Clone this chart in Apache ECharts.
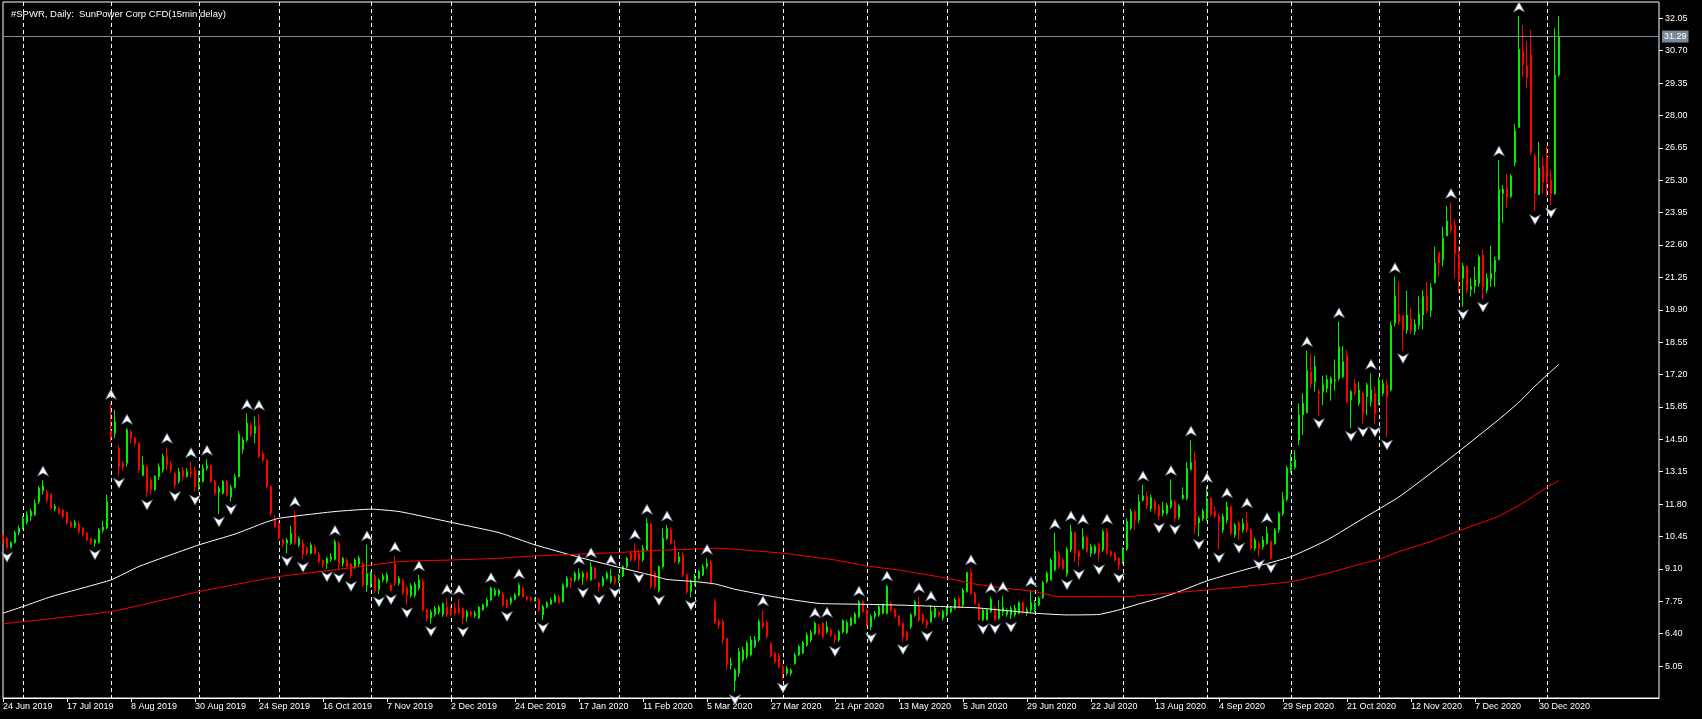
<!DOCTYPE html>
<html>
<head>
<meta charset="utf-8">
<title>#SPWR, Daily</title>
<script src="https://cdn.jsdelivr.net/npm/echarts@6/dist/echarts.min.js"></script>
<style>
  html, body { margin: 0; padding: 0; background: #000; }
  #main { width: 1702px; height: 719px; }
</style>
</head>
<body>
<div id="main"></div>
<script>
// daily bars, one small array per month: [open, close, low, high]
var jun2019 = [
  [10.45,10.35,10.15,10.55],[10.37,10.0,9.92,10.45],[10.0,10.2,9.95,10.25],[10.2,10.6,10.15,10.7],[10.6,10.8,10.5,10.9]
];
var jul2019 = [
  [10.8,11.2,10.75,11.3],[11.05,11.35,10.95,11.5],[11.3,11.5,11.1,11.6],[11.35,11.84,11.3,12.0],[11.9,12.46,11.8,12.55],
  [12.35,12.55,12.2,12.8],[12.3,11.95,11.85,12.4],[12.2,11.63,11.55,12.25],[11.6,11.7,11.5,11.8],[11.62,11.42,11.35,11.72],
  [11.55,11.28,11.2,11.6],[11.45,11.0,10.95,11.5],[11.05,10.86,10.8,11.1],[10.9,11.05,10.8,11.15],[10.97,10.65,10.55,11.1],
  [10.8,10.52,10.45,10.85],[10.6,10.3,10.25,10.65],[10.37,10.2,10.1,10.4],[10.17,10.3,10.02,10.35],[10.2,10.72,10.15,10.8],
  [10.7,10.85,10.6,11.1],[10.8,11.9,10.75,12.2]
];
var aug2019 = [
  [14.85,14.59,14.36,16.0],[14.75,15.24,14.55,15.72],[14.13,13.36,13.0,14.27],[13.5,13.36,13.2,13.6],[13.5,14.9,13.36,14.96],
  [14.82,14.55,14.33,14.9],[14.55,14.33,14.2,14.6],[14.33,13.22,13.1,14.4],[13.0,13.43,12.95,13.8],[13.36,12.32,12.1,13.45],
  [12.8,12.4,12.2,12.9],[12.4,12.95,12.35,13.0],[12.95,13.36,12.8,13.5],[13.22,13.78,13.1,13.9],[13.78,13.43,13.22,14.17],
  [13.5,13.22,13.1,13.6],[13.08,12.6,12.45,13.15],[12.74,13.15,12.65,13.3],[13.2,12.95,12.75,13.35],[12.95,13.15,12.9,13.3],
  [13.15,13.08,12.9,13.57],[13.22,12.53,12.3,13.36]
];
var sep2019 = [
  [12.5,12.6,12.35,13.2],[12.75,13.3,12.7,13.45],[13.3,13.4,13.2,13.67],[13.4,12.74,12.7,13.45],[12.74,12.25,12.15,12.8],
  [12.3,12.45,11.39,12.55],[12.25,12.74,12.2,12.8],[12.74,12.18,12.1,12.8],[12.1,12.5,11.9,12.6],[12.5,12.95,12.45,13.05],
  [12.95,14.7,12.9,14.85],[14.09,14.47,13.9,14.6],[14.47,15.17,14.4,15.58],[15.1,14.7,14.6,15.2],[14.75,15.03,14.33,15.45],
  [15.1,13.78,13.71,15.55],[13.9,13.64,13.55,14.0],[13.64,12.53,12.45,13.7],[12.53,11.42,11.3,12.6],[11.14,10.86,10.8,11.35]
];
var oct2019 = [
  [11.0,10.38,10.3,11.1],[10.3,10.1,10.0,10.35],[10.17,10.3,9.75,10.4],[10.17,10.58,10.1,10.9],[11.28,10.17,10.1,11.53],
  [10.1,10.37,10.0,10.45],[10.17,9.72,9.5,10.3],[9.95,9.75,9.65,10.05],[9.75,10.1,9.7,10.2],[10.0,9.75,9.7,10.1],
  [9.7,9.4,9.3,9.8],[9.45,9.28,9.15,9.5],[9.33,9.54,9.1,9.6],[9.5,9.6,9.4,9.75],[9.5,10.23,9.45,10.33],
  [10.17,9.33,9.05,10.25],[9.33,9.54,9.2,9.6],[9.47,9.2,9.1,9.55],[9.3,8.8,8.7,9.35],[9.2,9.47,9.1,9.55],
  [9.3,9.55,9.2,9.65],[9.33,8.43,8.35,9.4],[8.43,8.9,8.15,10.1]
];
var nov2019 = [
  [8.5,8.95,8.3,9.0],[8.8,8.2,8.1,8.9],[8.25,8.64,8.05,8.7],[8.64,8.78,8.55,8.9],[8.6,8.85,8.5,8.95],
  [8.43,8.2,8.15,8.5],[9.3,8.5,8.4,9.64],[8.5,8.7,8.4,8.8],[8.6,8.1,8.0,8.7],[8.3,8.0,7.6,8.4],
  [8.0,8.4,7.9,8.5],[8.0,8.45,7.9,8.55],[8.3,8.64,8.2,8.85],[8.57,7.39,7.3,8.7],[7.39,7.05,6.9,7.45],
  [7.05,7.3,6.82,7.4],[7.2,7.45,7.1,7.55],[7.3,7.5,7.2,7.6],[7.2,7.65,7.1,7.7],[7.5,7.2,7.1,7.87]
];
var dec2019 = [
  [7.45,7.2,7.1,7.55],[7.45,7.25,7.15,7.7],[7.45,7.3,7.2,7.85],[7.45,7.05,6.8,7.5],[7.1,7.3,6.9,7.4],
  [7.3,7.2,7.1,7.35],[7.15,7.25,7.05,7.35],[7.05,7.5,7.0,7.55],[7.4,7.6,7.35,7.65],[7.55,7.8,7.5,7.9],
  [7.8,8.3,7.75,8.36],[8.0,8.2,7.95,8.3],[8.05,8.2,7.95,8.28],[8.05,7.59,7.52,8.15],[7.8,7.52,7.45,7.85],
  [7.69,7.87,7.6,7.95],[7.83,8.01,7.78,8.1],[8.0,8.43,7.95,8.52],[8.29,7.94,7.9,8.35],[7.91,7.83,7.75,7.98],
  [7.87,7.8,7.72,7.95]
];
var jan2020 = [
  [7.8,7.83,7.73,7.9],[7.83,7.39,7.3,7.9],[7.18,7.52,6.97,7.6],[7.52,7.69,7.45,7.75],[7.63,7.8,7.6,7.9],
  [7.73,7.97,7.7,8.05],[7.91,7.69,7.62,8.0],[7.73,8.43,7.7,8.5],[8.36,8.71,8.3,8.8],[8.71,8.57,8.3,8.75],
  [8.64,8.91,8.55,9.0],[8.7,8.91,8.6,9.12],[8.75,8.91,8.43,9.0],[8.94,8.7,8.6,9.0],[8.64,9.19,8.6,9.4],
  [9.12,8.71,8.65,9.2],[8.5,8.36,8.15,8.55],[8.43,8.71,8.35,8.8],[8.71,8.91,8.65,9.0],[8.57,8.8,8.5,9.1],
  [8.71,8.53,8.43,8.8]
];
var feb2020 = [
  [8.61,8.84,8.5,8.9],[8.8,9.19,8.75,9.25],[9.19,9.54,9.1,9.6],[9.75,9.47,9.4,9.85],[9.89,9.47,9.4,10.16],
  [9.75,9.47,9.05,9.9],[9.47,9.96,9.4,10.1],[9.89,11.0,9.85,11.21],[10.97,8.36,8.3,11.0],[8.91,8.36,8.25,9.0],
  [8.19,9.19,8.11,9.25],[9.19,10.37,9.1,10.8],[10.37,10.79,10.3,10.93],[10.72,10.16,10.1,10.85],[10.02,9.4,9.35,10.3],
  [9.4,9.6,9.3,9.8],[9.68,8.84,8.75,9.8],[8.84,8.15,8.05,8.9],[8.15,8.57,7.91,8.65]
];
var mar2020 = [
  [8.5,8.71,8.4,8.9],[8.71,8.98,8.65,9.05],[8.84,9.19,8.8,9.3],[9.19,9.33,9.1,9.54],[9.36,8.5,8.45,9.45],
  [7.73,6.9,6.8,7.85],[6.9,6.76,6.6,7.0],[6.9,6.14,5.95,7.0],[6.2,5.16,4.88,6.25],[5.09,5.16,4.9,5.4],
  [4.44,4.88,3.98,4.95],[4.75,5.65,4.6,5.8],[5.3,5.72,5.2,5.85],[5.44,6.0,5.35,6.1],[5.51,6.14,5.45,6.3],
  [5.86,6.14,5.8,6.3],[6.14,6.9,6.05,7.0],[6.86,6.69,6.6,7.39],[6.86,6.27,6.2,6.95],[5.97,5.47,5.4,6.05],
  [5.58,5.23,5.15,5.65],[5.47,5.02,4.95,5.6]
];
var apr2020 = [
  [5.02,4.75,4.47,5.1],[4.75,4.95,4.65,5.05],[4.75,4.88,4.65,4.95],[5.16,5.51,5.1,5.6],[5.51,5.86,5.45,5.95],
  [5.6,6.02,5.55,6.1],[5.93,6.34,5.85,6.45],[6.14,6.44,6.05,6.55],[6.41,6.83,6.35,6.9],[6.69,6.41,6.35,6.8],
  [6.83,6.27,6.2,6.88],[6.48,6.69,6.4,6.92],[6.55,6.34,6.25,6.65],[6.34,6.16,5.99,6.4],[6.14,6.48,6.05,6.55],
  [6.48,6.94,6.4,7.0],[6.44,6.86,6.4,6.95],[6.76,7.04,6.7,7.1],[6.83,7.22,6.8,7.3],[7.11,7.73,7.05,7.8],
  [7.73,7.32,7.25,7.78]
];
var may2020 = [
  [7.39,6.76,6.7,7.45],[6.69,7.11,6.55,7.2],[7.11,7.25,7.0,7.35],[7.18,7.52,7.1,7.6],[7.25,7.59,7.2,7.65],
  [7.25,8.36,7.2,8.43],[7.66,7.39,7.3,7.75],[7.39,7.11,7.05,7.45],[7.14,6.76,6.7,7.2],[6.83,6.27,6.07,6.9],
  [6.44,6.14,6.1,6.5],[6.69,7.18,6.6,7.25],[7.18,7.73,7.1,7.8],[7.52,6.97,6.9,7.94],[7.18,6.9,6.8,7.25],
  [6.94,6.76,6.62,7.0],[6.9,7.32,6.85,7.59],[7.11,7.46,7.05,7.55],[7.28,7.18,7.1,7.35],[7.04,7.32,6.95,7.4]
];
var jun2020 = [
  [7.18,7.46,7.1,7.55],[7.32,7.46,7.25,7.55],[7.46,7.8,7.4,7.9],[7.87,7.52,7.45,7.95],[7.59,8.22,7.5,8.3],
  [8.15,8.94,8.1,8.98],[8.94,8.08,8.0,9.1],[8.08,7.66,7.6,8.15],[7.63,6.97,6.95,7.7],[6.97,7.39,6.92,7.45],
  [6.97,7.39,6.97,7.45],[7.32,7.83,7.25,7.94],[7.46,6.97,6.94,7.55],[7.04,7.39,6.98,7.8],[7.3,7.5,7.15,7.98],
  [7.2,7.34,7.1,7.45],[7.18,7.45,7.0,7.55],[7.18,7.45,7.1,7.6],[7.25,7.69,7.2,7.75],[7.69,7.32,7.2,7.75],
  [7.25,7.39,7.15,7.5],[7.39,7.69,7.3,8.2]
];
var jul2020 = [
  [7.39,7.69,7.3,7.8],[7.6,7.87,7.55,7.95],[7.9,8.52,7.85,8.6],[8.57,8.91,8.5,9.0],[8.64,9.47,8.6,9.55],
  [9.05,9.82,9.0,10.6],[9.75,9.19,9.1,9.85],[9.47,9.12,9.05,9.55],[8.91,9.92,8.77,10.0],[9.89,10.65,9.8,10.93],
  [10.61,9.75,9.4,10.65],[9.82,9.61,9.19,9.9],[9.96,10.44,9.9,10.79],[10.41,9.82,9.75,10.5],[9.75,10.03,9.6,10.15],
  [9.78,10.03,9.7,10.1],[10.14,9.75,9.4,10.2],[9.89,10.65,9.8,10.75],[10.65,9.75,9.7,10.8],[9.82,9.68,9.6,9.9],
  [9.75,9.47,9.4,9.8],[9.54,9.26,9.05,9.6]
];
var aug2020 = [
  [9.4,9.92,9.3,10.0],[9.92,11.07,9.85,11.2],[10.79,11.49,10.7,11.6],[11.49,11.14,10.72,11.55],[11.14,11.9,11.0,12.2],
  [11.97,12.14,11.9,12.6],[12.14,11.72,11.6,12.3],[11.62,12.08,11.5,12.2],[11.9,11.55,11.4,12.0],[11.72,11.3,11.14,11.8],
  [11.42,11.55,11.3,11.9],[11.42,11.76,11.35,11.85],[11.69,11.97,11.6,12.83],[11.9,11.2,11.07,12.0],[11.25,11.72,11.15,11.8],
  [12.04,12.18,11.97,12.5],[12.04,13.29,11.95,13.55],[13.25,13.53,13.2,14.47],[13.64,10.93,10.55,14.0],[11.02,11.2,10.45,11.3],
  [11.2,11.5,11.1,11.6]
];
var sep2020 = [
  [11.2,11.97,11.1,12.53],[12.04,11.4,11.3,12.1],[11.5,11.3,11.2,11.7],[11.28,11.07,9.89,11.4],[10.72,11.28,10.6,11.4],
  [11.14,11.69,11.0,11.9],[11.69,10.58,10.5,11.75],[10.51,10.93,10.4,11.0],[11.02,10.72,10.3,11.1],[10.72,11.0,10.6,11.2],
  [11.02,10.72,10.6,11.48],[10.72,9.96,9.9,10.8],[9.96,10.3,9.85,10.4],[10.16,9.96,9.61,10.25],[10.03,10.3,9.9,10.45],
  [10.16,10.58,10.1,10.86],[10.23,9.54,9.47,10.3],[10.16,10.72,10.1,10.8],[10.72,11.41,10.6,11.5],[11.4,12.0,11.3,12.3],
  [12.0,13.3,11.9,13.4]
];
var oct2020 = [
  [13.22,13.5,13.1,13.9],[13.33,13.64,13.25,14.05],[14.47,15.51,14.26,16.0],[15.51,16.0,14.68,16.42],[15.61,17.36,15.58,18.2],
  [17.32,16.83,16.63,18.06],[16.9,17.53,16.49,17.97],[16.49,16.42,15.49,16.6],[16.49,16.77,15.93,17.14],[16.63,17.0,16.44,17.18],
  [16.83,17.04,16.11,17.11],[16.93,16.98,16.53,17.83],[17.04,18.36,16.95,19.4],[17.11,17.74,17.04,18.39],[18.0,16.07,16.0,18.22],
  [16.14,16.49,14.96,16.55],[16.83,16.42,16.3,17.0],[16.0,16.56,15.9,16.9],[16.42,15.58,15.14,16.5],[16.28,16.77,15.51,16.85],
  [16.07,16.56,15.86,17.25],[16.42,15.58,15.14,16.7]
];
var nov2020 = [
  [16.0,16.97,15.9,17.1],[16.42,16.83,16.3,17.0],[16.77,16.28,14.6,17.0],[16.56,19.25,16.5,19.4],[19.34,20.47,19.2,21.28],
  [19.72,19.4,19.27,21.07],[19.64,19.06,18.2,19.7],[19.06,19.68,18.9,20.7],[19.51,19.06,18.9,19.99],[19.0,19.3,18.85,19.5],
  [19.27,19.72,19.1,20.47],[19.68,20.45,19.08,20.72],[20.47,19.86,19.75,21.07],[19.86,20.82,19.6,21.0],[21.03,21.84,21.0,22.53],
  [22.28,21.84,21.28,22.3],[21.97,22.88,21.7,23.36],[22.98,23.6,22.97,24.22],[23.41,23.22,23.09,24.37],[23.43,22.25,21.21,23.67]
];
var dec2020 = [
  [22.22,21.14,20.59,22.56],[21.21,21.72,20.03,21.85],[21.7,20.7,20.59,21.75],[20.75,20.87,20.45,21.21],[20.89,21.14,20.59,21.7],
  [21.0,22.11,20.86,22.2],[22.18,20.86,20.34,22.42],[20.72,21.21,20.59,21.42],[21.17,21.42,20.86,22.56],[21.49,21.97,20.86,22.11],
  [22.0,24.92,21.97,26.14],[24.75,24.92,23.53,25.1],[25.0,24.59,24.13,25.56],[24.62,25.48,24.55,25.56],[26.03,27.35,25.89,27.64],
  [27.5,30.76,27.5,32.15],[30.7,30.1,29.62,31.77],[30.06,29.59,29.13,31.08],[30.52,26.45,26.35,31.56],[26.31,24.75,23.99,26.42],
  [24.7,25.8,24.68,26.9],[25.89,25.2,24.75,26.28]
];
var jan2021 = [
  [26.25,25.2,24.62,26.73],[25.31,24.73,24.27,25.73],[24.73,29.69,24.7,31.63],[29.69,31.29,29.6,32.15]
];

// moving averages: [bar index, value]
var whiteMA = [[0,7.25],[5,7.53],[12,7.94],[27,8.64],[34,9.2],[49,10.1],[58,10.55],[65,11.0],[69,11.21],[83,11.49],
  [92,11.59],[99,11.49],[112,11.04],[124,10.61],[133,10.1],[145,9.54],[154,9.16],[162,8.84],[166,8.66],[173,8.57],
  [178,8.47],[183,8.25],[189,8.05],[195,7.87],[204,7.66],[216,7.62],[224,7.59],[236,7.52],[243,7.48],[249,7.39],
  [258,7.25],[266,7.18],[274,7.2],[279,7.39],[284,7.64],[289,7.87],[294,8.15],[301,8.6],[308,8.95],[322,9.61],
  [331,10.3],[340,11.2],[349,12.1],[358,13.22],[364,14.0],[374,15.33],[379,16.05],[383,16.72],[386,17.18],[389,17.63]];
var redMA = [[0,6.81],[27,7.32],[49,8.15],[69,8.78],[83,9.06],[99,9.4],[112,9.47],[124,9.54],[133,9.64],[145,9.72],
  [154,9.78],[162,9.86],[174,9.93],[178,9.96],[195,9.75],[208,9.47],[216,9.22],[224,9.05],[236,8.71],[243,8.47],
  [249,8.33],[258,8.15],[264,7.94],[280,7.94],[291,8.08],[299,8.19],[322,8.57],[331,8.91],[340,9.33],[344,9.5],
  [349,9.82],[358,10.3],[364,10.69],[374,11.3],[381,11.95],[386,12.5],[389,12.78]];

// fractal bars
var upFractalBars = [10,27,31,41,47,51,61,64,73,83,91,98,104,111,114,122,129,144,147,152,158,161,166,176,190,203,206,214,
  221,229,232,242,247,250,257,263,267,270,276,285,292,297,301,306,311,316,326,334,342,348,362,374,379];
var downFractalBars = [1,23,29,36,43,48,54,57,71,75,81,84,87,94,97,101,107,115,126,135,145,149,153,159,164,172,183,195,
  208,217,225,231,245,248,252,266,269,274,279,289,293,299,304,309,314,317,329,337,340,343,346,350,365,370,383,387];

var yTicks = [5.05, 6.40, 7.75, 9.10, 10.45, 11.80, 13.15, 14.50, 15.85, 17.20, 18.55, 19.90, 21.25, 22.60, 23.95, 25.30, 26.65, 28.00, 29.35, 30.70, 32.05];
var lastPrice = 31.29;
var holidays = ["2019-07-04","2019-09-02","2019-11-28","2019-12-25","2020-01-01","2020-01-20","2020-02-17","2020-04-10",
  "2020-05-25","2020-07-03","2020-09-07","2020-11-26","2020-12-25","2021-01-01","2021-01-18","2021-02-15"];
var monthNames = ["Jan","Feb","Mar","Apr","May","Jun","Jul","Aug","Sep","Oct","Nov","Dec"];

var candles = [].concat(jun2019, jul2019, aug2019, sep2019, oct2019, nov2019, dec2019, jan2020, feb2020, mar2020,
  apr2020, may2020, jun2020, jul2020, aug2020, sep2020, oct2020, nov2020, dec2020, jan2021);
var shiftBars = 25; // empty space on the right

function tradingDays(count) {
  var out = [];
  var d = new Date(Date.UTC(2019, 5, 24));
  while (out.length < count) {
    var dow = d.getUTCDay();
    var iso = d.toISOString().slice(0, 10);
    if (dow !== 0 && dow !== 6 && holidays.indexOf(iso) < 0) out.push(iso);
    d.setUTCDate(d.getUTCDate() + 1);
  }
  return out;
}
var days = tradingDays(candles.length + shiftBars);

function isLabelBar(i) { return i % 16 === 0 && i < candles.length; }
function isMonthStart(i) { return i > 0 && i < candles.length && days[i].slice(5, 7) !== days[i - 1].slice(5, 7); }

var upArrow = "path://M5,0 L10,10 L5,7 L0,10 Z";
var downArrow = "path://M0,0 L5,3 L10,0 L5,10 Z";
var font = "Liberation Sans, Arial, sans-serif";

var chart = echarts.init(document.getElementById("main"));
var option = {
  backgroundColor: "#000000",
  animation: false,
  title: {
    text: "#SPWR, Daily:  SunPower Corp CFD(15min delay)",
    left: 6, top: 4,
    textStyle: { color: "#ffffff", fontSize: 9.5, fontWeight: "normal", fontFamily: font }
  },
  grid: { left: 2, top: 2, right: 43, bottom: 21, show: true, borderColor: "#ffffff", borderWidth: 1, backgroundColor: "transparent" },
  xAxis: {
    type: "category",
    data: days,
    boundaryGap: false,
    axisLine: { show: true, lineStyle: { color: "#ffffff" } },
    axisTick: { show: true, interval: function (i) { return isLabelBar(i); }, length: 4, lineStyle: { color: "#ffffff" } },
    axisLabel: {
      interval: function (i) { return isLabelBar(i); },
      formatter: function (v) {
        var p = v.split("-");
        return (+p[2]) + " " + monthNames[+p[1] - 1] + " " + p[0];
      },
      align: "left", margin: 4, color: "#ffffff", fontSize: 9, fontFamily: font
    },
    splitLine: {
      show: true,
      interval: function (i) { return isMonthStart(i); },
      lineStyle: { color: "#ffffff", width: 1, type: [4, 3] }
    }
  },
  yAxis: {
    type: "value",
    position: "right",
    min: 3.717, max: 32.729,
    axisLine: { show: false },
    axisTick: { show: true, customValues: yTicks, length: 4, lineStyle: { color: "#ffffff" } },
    axisLabel: {
      customValues: yTicks, margin: 6, color: "#ffffff", fontSize: 9, fontFamily: font,
      formatter: function (v) { return v.toFixed(2); }
    },
    splitLine: { show: false }
  },
  series: [
    {
      type: "candlestick",
      data: candles,
      barWidth: 2,
      itemStyle: { color: "#00ee00", color0: "#ff0000", borderColor: "#00ee00", borderColor0: "#ff0000", borderWidth: 1 },
      markLine: {
        silent: true,
        symbol: "none",
        data: [{ yAxis: lastPrice }],
        lineStyle: { color: "#778899", width: 1, type: "solid" },
        label: {
          show: true, position: "end", distance: 3,
          formatter: lastPrice.toFixed(2),
          backgroundColor: "#778899", color: "#ffffff", padding: [2, 2, 1, 2],
          fontSize: 9, fontFamily: font
        }
      },
      z: 2
    },
    {
      type: "line", data: whiteMA, showSymbol: false, smooth: 0.15,
      lineStyle: { color: "#ffffff", width: 1 }, z: 3
    },
    {
      type: "line", data: redMA, showSymbol: false, smooth: 0.15,
      lineStyle: { color: "#ff0000", width: 1 }, z: 3
    },
    {
      type: "scatter",
      data: upFractalBars.map(function (i) { return [i, candles[i][3]]; }),
      symbol: upArrow, symbolSize: [11, 10], symbolOffset: [0, -9],
      itemStyle: { color: "#ffffff", borderColor: "#5a6f8a", borderWidth: 0.7, opacity: 1 },
      z: 4
    },
    {
      type: "scatter",
      data: downFractalBars.map(function (i) { return [i, candles[i][2]]; }),
      symbol: downArrow, symbolSize: [11, 10], symbolOffset: [0, 8],
      itemStyle: { color: "#ffffff", borderColor: "#5a6f8a", borderWidth: 0.7, opacity: 1 },
      z: 4
    }
  ]
};
chart.setOption(option);
window.onresize = chart.resize;
</script>
</body>
</html>
